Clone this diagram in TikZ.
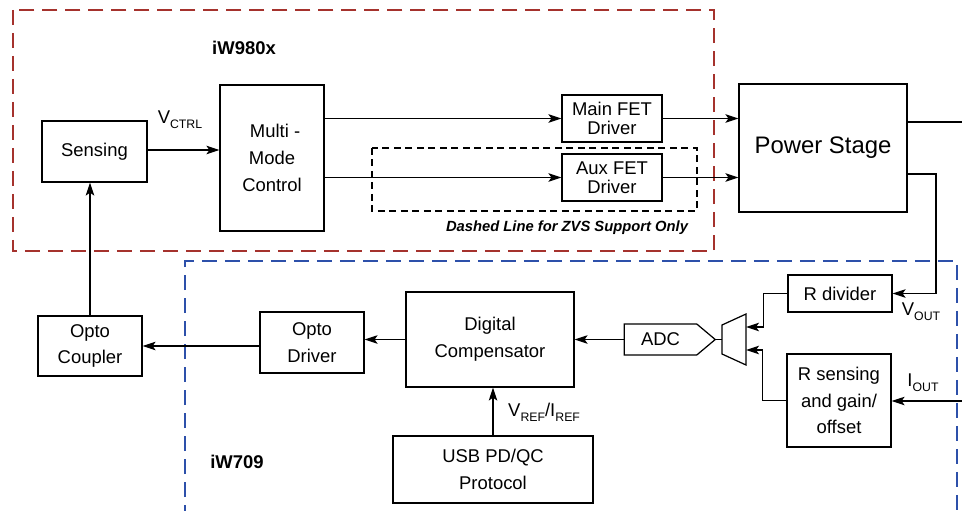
\documentclass[tikz,border=0pt]{standalone}
\usepackage{fontspec}
\setmainfont{Liberation Sans}
\usetikzlibrary{arrows.meta,shapes.symbols}
\newcommand{\subtxt}[1]{\raisebox{-3pt}{\fontsize{7}{8}\selectfont #1}}

\begin{document}
\begin{tikzpicture}[
    x=0.02cm, y=-0.02cm,
    every node/.style={font=\fontsize{10.5}{15.3}\selectfont},
    blk/.style={draw, line width=0.7pt, align=center, inner sep=0pt},
    wire/.style={draw, line width=0.7pt},
    flow/.style={wire, -{Stealth[length=2.6mm, width=1.7mm, inset=0.6mm]}},
    tag/.style={font=\bfseries\fontsize{10.5}{12}\selectfont}
  ]
  \useasboundingbox (0,0) rectangle (962,510);
  \clip (0,0) rectangle (962,510);

  % chip outlines
  \draw[line width=1.1pt, color={rgb,255:red,165;green,50;blue,45}, dash pattern=on 0.3cm off 0.16cm]
    (13,10) rectangle (714,251);
  \draw[line width=1.1pt, color={rgb,255:red,45;green,80;blue,170}, dash pattern=on 0.3cm off 0.16cm]
    (185,520) -- (185,261) -- (957,261) -- (957,520);
  \draw[line width=0.7pt, dash pattern=on 0.14cm off 0.09cm] (372,148) rectangle (697,211);

  \node[tag] (iw980) at (244,48) {iW980x};
  \node[tag] (iw709) at (237,462) {iW709};
  \node[font=\bfseries\itshape\fontsize{8.4}{10}\selectfont] (zvs) at (567,228) {Dashed Line for ZVS Support Only};

  % blocks
  \node[blk, minimum width=2.1cm, minimum height=1.22cm] (sensing) at (94.5,151.5) {Sensing};
  \node[blk, minimum width=2.08cm, minimum height=2.92cm] (multi) at (272,158) {\,\,Multi -\\Mode\\Control};
  \node[blk, minimum width=2cm, minimum height=0.94cm, font=\fontsize{10.5}{11}\selectfont] (mainfet) at (612,118.5) {Main FET\\Driver};
  \node[blk, minimum width=2cm, minimum height=0.94cm, font=\fontsize{10.5}{11}\selectfont] (auxfet) at (612,177.5) {Aux FET\\Driver};
  \node[blk, minimum width=3.36cm, minimum height=2.56cm, font=\fontsize{13.6}{16}\selectfont] (power) at (823,148) {Power Stage};
  \node[blk, minimum width=2.08cm, minimum height=0.74cm] (rdiv) at (840,293.5) {R divider};
  \node[blk, minimum width=2.08cm, minimum height=1.86cm] (rsense) at (839,400.5) {R sensing\\and gain/\\offset};
  \node[blk, signal, signal to=east, signal pointer angle=80, minimum width=1.82cm, minimum height=0.62cm] (adc) at (660.5,339.5) {ADC};
  \node[blk, minimum width=3.36cm, minimum height=1.9cm] (dcomp) at (490,339.5) {Digital\\Compensator};
  \node[blk, minimum width=2.08cm, minimum height=1.22cm] (odrv) at (312,342.5) {Opto\\Driver};
  \node[blk, minimum width=2.08cm, minimum height=1.2cm] (ocoup) at (90,346) {Opto\\Coupler};
  \node[blk, minimum width=4cm, minimum height=1.34cm] (usb) at (493,469.5) {USB PD/QC\\Protocol};

  % mux
  \draw[wire] (722,325) -- (746,314) -- (746,365) -- (722,354) -- cycle;
  \coordinate (muxout) at (722,339.5);
  \coordinate (muxin1) at (746,327);
  \coordinate (muxin2) at (746,350);

  % outside ends
  \coordinate (vbus) at (962,122);
  \coordinate (vtap) at (936,174);
  \coordinate (iin) at (962,401);

  % labels
  \node (vctrl) at (180,120) {V\subtxt{CTRL}};
  \node[anchor=west] (vref) at (502,412) {V\subtxt{REF}/I\subtxt{REF}};
  \node (vout) at (921,312) {V\subtxt{OUT}};
  \node (iout) at (923,383) {I\subtxt{OUT}};

  % connections
  \draw[flow] (sensing.east |- 0,150) -- (multi.west |- 0,150);
  \draw[flow] (multi.east |- mainfet.west) -- (mainfet.west);
  \draw[flow] (multi.east |- auxfet.west) -- (auxfet.west);
  \draw[flow] (mainfet.east) -- (mainfet.east -| power.west);
  \draw[flow] (auxfet.east) -- (auxfet.east -| power.west);
  \draw[wire] (vbus -| power.east) -- (vbus);
  \draw[flow] (vtap -| power.east) -- (vtap) |- (rdiv.east);
  \draw[flow] (iin) -- (iin -| rsense.east);
  \draw[flow] (rdiv.west) -- ++(-24,0) |- (muxin1);
  \draw[flow] (rsense.west) -- ++(-24,0) |- (muxin2);
  \draw[wire] (muxout) -- (adc.east);
  \draw[flow] (adc.west) -- (adc.west -| dcomp.east);
  \draw[flow] (dcomp.west) -- (dcomp.west -| odrv.east);
  \draw[flow] (odrv.west |- ocoup.east) -- (ocoup.east);
  \draw[flow] (ocoup.north) -- (ocoup.north |- sensing.south);
  \draw[flow] (usb.north) -- (usb.north |- dcomp.south);

\end{tikzpicture}
\end{document}
